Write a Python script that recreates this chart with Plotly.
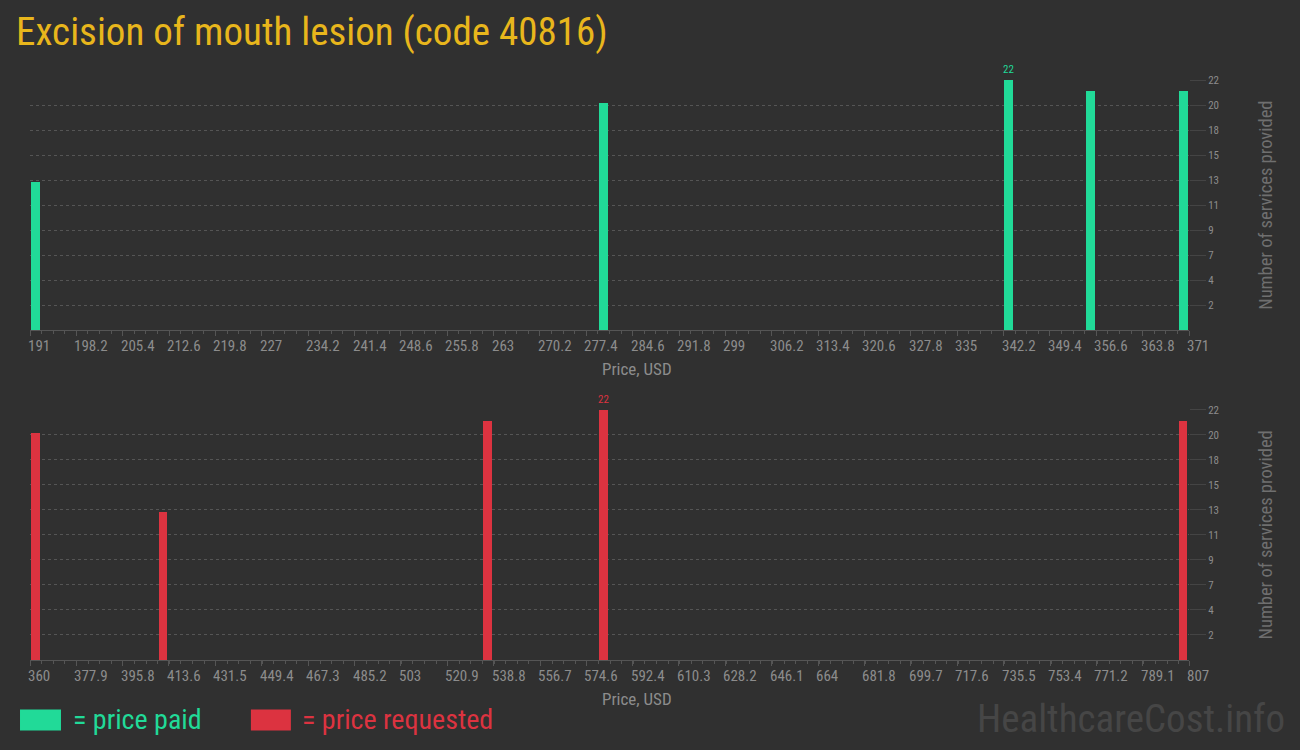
import plotly.graph_objects as go

# ---------------- data ----------------
paid_prices = [191.8, 280.0, 343.0, 355.7, 370.2]
paid_counts = [13, 20, 22, 21, 21]

requested_prices = [362.1, 411.3, 536.5, 581.1, 804.7]
requested_counts = [20, 13, 21, 22, 21]

paid_tick_labels = ["191", "198.2", "205.4", "212.6", "219.8", "227", "234.2", "241.4",
                    "248.6", "255.8", "263", "270.2", "277.4", "284.6", "291.8", "299",
                    "306.2", "313.4", "320.6", "327.8", "335", "342.2", "349.4", "356.6",
                    "363.8", "371"]
requested_tick_labels = ["360", "377.9", "395.8", "413.6", "431.5", "449.4", "467.3", "485.2",
                         "503", "520.9", "538.8", "556.7", "574.6", "592.4", "610.3", "628.2",
                         "646.1", "664", "681.8", "699.7", "717.6", "735.5", "753.4", "771.2",
                         "789.1", "807"]
count_tick_values = [2.2, 4.4, 6.6, 8.8, 11.0, 13.2, 15.4, 17.6, 19.8, 22.0]
count_tick_labels = ["2", "4", "7", "9", "11", "13", "15", "18", "20", "22"]

title_text = "Excision of mouth lesion (code 40816)"
x_title = "Price, USD"
y_title = "Number of services provided"

# ---------------- style ----------------
BG = "#303030"
GREEN = "#21da98"
RED = "#dc3340"
GOLD = "#e8b61c"
TICK_COLOR = "#8c8c8c"
GRID = "#555555"
AXIS = "#555555"
COND = "Roboto Condensed, Liberation Sans Narrow, DejaVu Sans Condensed, Roboto, sans-serif"

W, H = 1300, 750
ML, MR, MT, MB = 30, 110.5, 80, 89.5
PW, PH = W - ML - MR, H - MT - MB


def px_to_paper_x(px):
    return (px - ML) / PW


def px_to_paper_y(py):
    return (H - MB - py) / PH


top_dom = [px_to_paper_y(330.5), px_to_paper_y(80)]
bot_dom = [px_to_paper_y(660.5), px_to_paper_y(410)]

fig = go.Figure()

fig.add_trace(go.Bar(x=paid_prices, y=paid_counts, width=1.4, marker=dict(color=GREEN, line=dict(width=0)),
                     xaxis="x", yaxis="y", hoverinfo="x+y", showlegend=False))
fig.add_trace(go.Bar(x=requested_prices, y=requested_counts, width=3.3, marker=dict(color=RED, line=dict(width=0)),
                     xaxis="x2", yaxis="y2", hoverinfo="x+y", showlegend=False))

annotations = []

# max labels
pi = paid_counts.index(max(paid_counts))
ri = requested_counts.index(max(requested_counts))
annotations.append(dict(x=paid_prices[pi], y=paid_counts[pi], xref="x", yref="y", text=str(paid_counts[pi]),
                        showarrow=False, yanchor="bottom", yshift=2, font=dict(family=COND, size=11, color=GREEN)))
annotations.append(dict(x=requested_prices[ri], y=requested_counts[ri], xref="x2", yref="y2",
                        text=str(requested_counts[ri]), showarrow=False, yanchor="bottom", yshift=2,
                        font=dict(family=COND, size=11, color=RED)))

# x tick labels, left-aligned at their ticks as in the original
for labels, xref, dom in ((paid_tick_labels, "x", top_dom), (requested_tick_labels, "x2", bot_dom)):
    for lab in labels:
        annotations.append(dict(x=float(lab), y=dom[0], xref=xref, yref="paper", text=lab, showarrow=False,
                                xanchor="left", yanchor="top", xshift=-4, yshift=-5,
                                font=dict(family=COND, size=15, color=TICK_COLOR)))
    annotations.append(dict(x=px_to_paper_x(637), y=dom[0], xref="paper", yref="paper", text=x_title,
                            showarrow=False, xanchor="center", yanchor="top", yshift=-27,
                            font=dict(family=COND, size=17, color=TICK_COLOR)))

# title, legend, watermark
annotations.append(dict(x=px_to_paper_x(14), y=px_to_paper_y(32), xref="paper", yref="paper", xanchor="left",
                        yanchor="middle", text=title_text, showarrow=False,
                        font=dict(family=COND, size=39, color=GOLD)))
annotations.append(dict(x=px_to_paper_x(71), y=px_to_paper_y(720), xref="paper", yref="paper",
                        text="= price paid", showarrow=False, xanchor="left", yanchor="middle",
                        font=dict(family=COND, size=28, color=GREEN)))
annotations.append(dict(x=px_to_paper_x(300), y=px_to_paper_y(720), xref="paper", yref="paper",
                        text="= price requested", showarrow=False, xanchor="left", yanchor="middle",
                        font=dict(family=COND, size=28, color=RED)))
annotations.append(dict(x=px_to_paper_x(1288), y=px_to_paper_y(720), xref="paper", yref="paper",
                        text="HealthcareCost.info", showarrow=False, xanchor="right", yanchor="middle",
                        font=dict(family=COND, size=39, color="#464646")))

shapes = [
    dict(type="rect", xref="paper", yref="paper", x0=px_to_paper_x(20), x1=px_to_paper_x(61),
         y0=px_to_paper_y(710), y1=px_to_paper_y(731), fillcolor=GREEN, line=dict(width=0)),
    dict(type="rect", xref="paper", yref="paper", x0=px_to_paper_x(251), x1=px_to_paper_x(291),
         y0=px_to_paper_y(710), y1=px_to_paper_y(731), fillcolor=RED, line=dict(width=0)),
]


def xaxis_cfg(labels, anchor):
    vals = [float(v) for v in labels]
    step = (vals[1] - vals[0]) / 4
    return dict(
        domain=[0, 1], anchor=anchor, range=[vals[0], vals[-1]],
        tickmode="array", tickvals=vals, ticktext=labels, showticklabels=False,
        ticks="outside", ticklen=5, tickcolor=AXIS, tickwidth=1,
        minor=dict(ticks="outside", ticklen=3, tickcolor=AXIS, dtick=step, tick0=vals[0], showgrid=False),
        showline=True, linecolor=AXIS, linewidth=1, showgrid=False, zeroline=False,
        fixedrange=True,
    )


def yaxis_cfg(anchor, dom):
    return dict(
        domain=dom, anchor=anchor, side="right", range=[0, 22],
        tickmode="array", tickvals=count_tick_values, ticktext=count_tick_labels,
        ticks="outside", ticklen=16, tickcolor="#444444", tickwidth=1,
        showgrid=True, gridcolor=GRID, griddash="3px,3px", gridwidth=1,
        zeroline=False, showline=False,
        tickfont=dict(family=COND, size=11, color=TICK_COLOR),
        title=dict(text=y_title, font=dict(family=COND, size=18.5, color="#6f6f6f"), standoff=40),
        fixedrange=True,
    )


fig.update_layout(
    width=W, height=H,
    margin=dict(l=ML, r=MR, t=MT, b=MB, autoexpand=False),
    paper_bgcolor=BG, plot_bgcolor=BG,
    bargap=0,
    xaxis=xaxis_cfg(paid_tick_labels, "y"),
    yaxis=yaxis_cfg("x", top_dom),
    xaxis2=xaxis_cfg(requested_tick_labels, "y2"),
    yaxis2=yaxis_cfg("x2", bot_dom),
    annotations=annotations,
    shapes=shapes,
    showlegend=False,
)

fig.write_html(
    "out.html",
    config={"displayModeBar": False},
    post_script="document.body.style.margin='0';document.body.style.background='#303030';",
)
